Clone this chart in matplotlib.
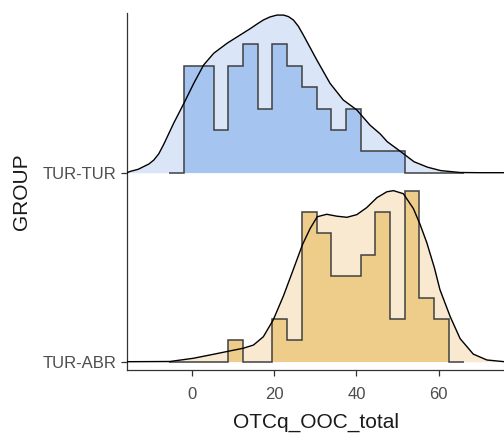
import numpy as np
import matplotlib
matplotlib.use("Agg")
import matplotlib.pyplot as plt

plt.rcParams['font.family'] = ['Liberation Sans', 'DejaVu Sans']

# ---- data ----
groups = ["TUR-ABR", "TUR-TUR"]

# histogram bins (shared)
bin_start = -5.4
bin_width = 3.572
n_bins = 20
counts_tur_tur = [0, 5, 5, 2, 5, 6, 3, 6, 5, 4, 3, 2, 3, 1, 1, 1, 0, 0, 0, 0]
counts_tur_abr = [0, 0, 0, 0, 1, 0, 0, 2, 1, 7, 6, 4, 4, 5, 7, 2, 8, 3, 2, 0]

# density ridges (height in units of ridge spacing)
dens_x_tur_tur = [-15.7, -14.9, -13.0, -11.7, -10.4, -9.2, -8.0, -6.8, -4.4, -1.9, 0.5, 2.9, 5.35, 8.6,
                  11.8, 14.2, 15.9, 17.4, 19.0, 20.7, 22.3, 23.5, 24.7, 25.9, 27.1, 30.4,
                  33.6, 36.8, 40.1, 43.3, 45.8, 47.5, 50.8, 54.0, 57.3, 60.5,
                  65.2, 70.1, 75.9]
dens_h_tur_tur = [0.0, 0.007, 0.018, 0.032, 0.046, 0.067, 0.100, 0.150, 0.261, 0.367, 0.473, 0.570, 0.632, 0.685,
                  0.729, 0.762, 0.787, 0.808, 0.824, 0.834, 0.834, 0.826, 0.808, 0.775, 0.729, 0.596,
                  0.473, 0.385, 0.332, 0.252, 0.205, 0.164, 0.111, 0.058, 0.029, 0.011,
                  0.001, 0.0, 0.0]

dens_x_tur_abr = [-15.7, -14.9, -5.3, 0.4, 5.25, 9.3, 12.5, 15.0, 17.4, 19.8, 22.3,
                  24.7, 26.9, 28.75, 30.5, 32.8, 35.2, 37.7, 40.1, 42.5, 45.0,
                  47.4, 49.0, 51.4, 53.85, 55.5, 57.1, 58.95, 60.3, 62.8, 65.2,
                  68.4, 71.7, 75.9]
dens_h_tur_abr = [0.0, 0.0, 0.001, 0.018, 0.039, 0.057, 0.071, 0.088, 0.132, 0.221, 0.349,
                  0.489, 0.619, 0.704, 0.767, 0.780, 0.770, 0.764, 0.778, 0.815, 0.868,
                  0.899, 0.905, 0.889, 0.810, 0.725, 0.630, 0.497, 0.381, 0.238, 0.122,
                  0.040, 0.009, 0.0]

count_scale = 0.1132  # ridge units per count

colors = {
    "TUR-TUR": {"dens": "#dae5f7", "hist": "#a6c4f0"},
    "TUR-ABR": {"dens": "#f9e9d0", "hist": "#eecc8a"},
}

# ---- plot ----
fig = plt.figure(figsize=(5.04, 4.34), dpi=100)
ax = fig.add_axes([127/504, 1 - 370/434, 1 - 127/504, (370 - 13)/434])

edges = bin_start + bin_width * np.arange(n_bins + 1)

series = [
    ("TUR-TUR", 1, counts_tur_tur, dens_x_tur_tur, dens_h_tur_tur),
    ("TUR-ABR", 0, counts_tur_abr, dens_x_tur_abr, dens_h_tur_abr),
]
for name, base, counts, dx, dh in series:
    c = colors[name]
    dx = np.array(dx); dh = np.array(dh)
    ax.fill_between(dx, base, base + dh, color=c["dens"], lw=0, zorder=1)
    vals = base + np.array(counts) * count_scale
    ax.stairs(vals, edges, baseline=base, fill=True, color=c["hist"], lw=0, zorder=2)
    ax.stairs(vals, edges, baseline=base, fill=False, color="#404040", lw=1.1, zorder=3)
    ax.plot(dx, base + dh, color="black", lw=1.0, zorder=4, solid_joinstyle="round")

ax.set_xlim(-15.72, 75.86)
ax.set_ylim(-0.044, 1.845)
ax.set_yticks([0, 1])
ax.set_yticklabels(groups)
ax.set_xticks([0, 20, 40, 60])

for s in ["top", "right"]:
    ax.spines[s].set_visible(False)
for s in ["left", "bottom"]:
    ax.spines[s].set_color("#333333")
    ax.spines[s].set_linewidth(0.9)

ax.tick_params(axis="both", colors="#333333", length=4, width=0.9,
               labelsize=12, labelcolor="#4d4d4d")
ax.tick_params(axis="x", pad=8)
ax.tick_params(axis="y", pad=3.5)

ax.set_xlabel("OTCq_OOC_total", fontsize=15, color="#1a1a1a", labelpad=8)
ax.set_ylabel("GROUP", fontsize=15, color="#1a1a1a", labelpad=8.5)

fig.savefig("out.png", dpi=100)
